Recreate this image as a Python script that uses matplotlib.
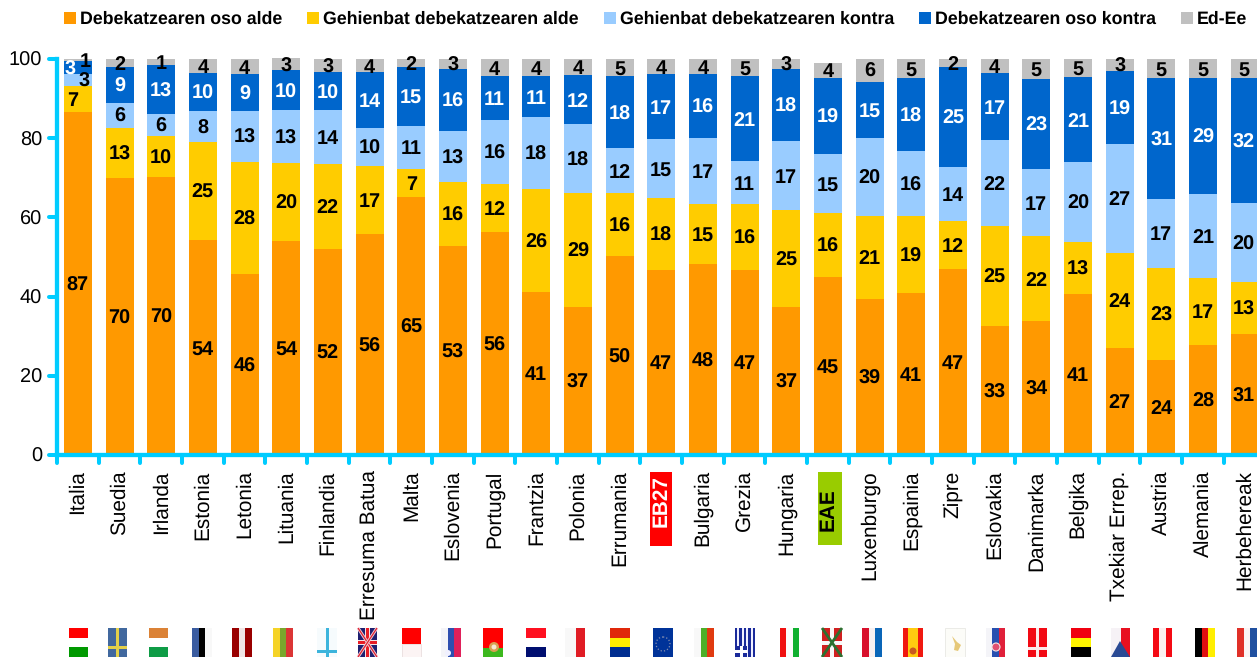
import matplotlib
matplotlib.use('Agg')
import matplotlib.pyplot as plt
from matplotlib.lines import TICKLEFT, TICKDOWN
from matplotlib.markers import MarkerStyle
from matplotlib.patches import Rectangle, Circle, Polygon
from matplotlib.transforms import Affine2D
import numpy as np

plt.rcParams['font.family'] = ['Liberation Sans', 'DejaVu Sans']
plt.rcParams['text.hinting'] = 'none'

countries = ['Italia', 'Suedia', 'Irlanda', 'Estonia', 'Letonia', 'Lituania', 'Finlandia',
             'Erresuma Batua', 'Malta', 'Eslovenia', 'Portugal', 'Frantzia', 'Polonia',
             'Errumania', 'EB27', 'Bulgaria', 'Grezia', 'Hungaria', 'EAE', 'Luxenburgo',
             'Espainia', 'Zipre', 'Eslovakia', 'Danimarka', 'Belgika', 'Txekiar Errep.',
             'Austria', 'Alemania', 'Herbehereak']

series_names = ['Debekatzearen oso alde', 'Gehienbat debekatzearen alde',
                'Gehienbat debekatzearen kontra', 'Debekatzearen oso kontra', 'Ed-Ee']

# segment heights
oso_alde = [86.5, 69.9, 70.1, 54.2, 45.7, 54.0, 52.0, 55.8, 65.1, 52.7, 56.3, 41.1, 37.3, 50.2, 46.7,
            48.2, 46.7, 37.3, 44.9, 39.4, 40.9, 46.9, 32.5, 33.8, 40.6, 27.0, 24.0, 27.7, 30.5]
alde = [6.6, 12.8, 10.4, 24.8, 28.4, 19.7, 21.5, 17.2, 7.0, 16.2, 12.1, 26.0, 28.8, 15.9, 18.1,
        15.1, 16.6, 24.5, 16.1, 20.9, 19.4, 12.1, 25.3, 21.4, 13.1, 24.0, 23.3, 17.0, 13.1]
kontra = [3.0, 6.1, 5.5, 7.8, 12.7, 13.3, 13.5, 9.7, 11.1, 12.8, 16.1, 18.2, 17.4, 11.3, 14.9,
          16.7, 10.9, 17.4, 14.9, 19.7, 16.4, 13.7, 21.7, 16.9, 20.2, 27.5, 17.3, 21.1, 20.0]
oso_kontra = [3.3, 9.3, 12.6, 9.6, 9.3, 10.1, 9.6, 13.9, 14.9, 15.7, 11.1, 10.3, 12.4, 18.2, 16.4,
              16.1, 21.4, 18.4, 19.2, 14.3, 18.4, 25.2, 16.9, 22.8, 21.5, 18.4, 30.5, 29.3, 31.5]
ed_ee = [0.6, 1.9, 1.3, 3.6, 3.9, 3.1, 3.3, 3.4, 1.9, 2.6, 4.3, 4.4, 4.1, 4.4, 3.9,
         3.9, 4.4, 2.4, 4.0, 5.7, 4.9, 2.1, 3.6, 5.1, 4.6, 3.1, 4.9, 4.9, 4.9]

# printed labels
lab_oso_alde = [87, 70, 70, 54, 46, 54, 52, 56, 65, 53, 56, 41, 37, 50, 47,
                48, 47, 37, 45, 39, 41, 47, 33, 34, 41, 27, 24, 28, 31]
lab_alde = [7, 13, 10, 25, 28, 20, 22, 17, 7, 16, 12, 26, 29, 16, 18,
            15, 16, 25, 16, 21, 19, 12, 25, 22, 13, 24, 23, 17, 13]
lab_kontra = [3, 6, 6, 8, 13, 13, 14, 10, 11, 13, 16, 18, 18, 12, 15,
              17, 11, 17, 15, 20, 16, 14, 22, 17, 20, 27, 17, 21, 20]
lab_oso_kontra = [3, 9, 13, 10, 9, 10, 10, 14, 15, 16, 11, 11, 12, 18, 17,
                  16, 21, 18, 19, 15, 18, 25, 17, 23, 21, 19, 31, 29, 32]
lab_ed_ee = [1, 2, 1, 4, 4, 3, 3, 4, 2, 3, 4, 4, 4, 5, 4,
             4, 5, 3, 4, 6, 5, 2, 4, 5, 5, 3, 5, 5, 5]

colors = ['#FF9900', '#FFCC00', '#99CCFF', '#0066CC', '#C0C0C0']
label_colors = ['black', 'black', 'black', 'white', 'black']
axis_color = '#00CCFF'

W, H = 1257, 657


def draw_stripes(bg, x0, x1, colors, horizontal):
    n = len(colors)
    for i, c in enumerate(colors):
        if horizontal:
            bg.add_patch(Rectangle((x0, 628 + i * 29 / n), x1 - x0, 29 / n, color=c, lw=0))
        else:
            bg.add_patch(Rectangle((x0 + i * (x1 - x0) / n, 628), (x1 - x0) / n, 29, color=c, lw=0))


def draw_cross(bg, x0, x1, bg_color, cross_color, cx, cy, t=3):
    bg.add_patch(Rectangle((x0, 628), x1 - x0, 29, color=bg_color, lw=0))
    bg.add_patch(Rectangle((cx - t / 2, 628), t, 29, color=cross_color, lw=0))
    bg.add_patch(Rectangle((x0, cy - t / 2), x1 - x0, t, color=cross_color, lw=0))


def draw_flags(bg):
    # the flags lie on their side, as in the picture, and are cut by the lower edge
    draw_stripes(bg, 69, 88, ['#FF0000', '#FFFFFF', '#009900'], True)
    draw_cross(bg, 108, 127, '#41689E', '#E3D04A', 117.5, 647)
    draw_stripes(bg, 149, 168, ['#DB8236', '#FFFFFF', '#0E9C46'], True)
    draw_stripes(bg, 192, 212, ['#3A5CA0', '#000000', '#F8F8F8'], False)
    draw_stripes(bg, 232, 252, ['#990000', '#F0E6E6', '#990000'], False)
    draw_stripes(bg, 273, 293, ['#F5D327', '#79A72C', '#DB3535'], False)
    draw_cross(bg, 317, 337, '#F6FBFD', '#3CB4DC', 327, 651)
    # union jack
    bg.add_patch(Rectangle((358, 628), 19, 29, color='#1F1F70', lw=0))
    for a, b in [((358, 628), (377, 657)), ((377, 628), (358, 657))]:
        bg.plot([a[0], b[0]], [a[1], b[1]], color='#F0D0D8', lw=2.2, solid_capstyle='butt')
        bg.plot([a[0], b[0]], [a[1], b[1]], color='#E02030', lw=0.9, solid_capstyle='butt')
    bg.add_patch(Rectangle((365, 628), 5, 29, color='#F5E5E5', lw=0))
    bg.add_patch(Rectangle((358, 640), 19, 5, color='#F5E5E5', lw=0))
    bg.add_patch(Rectangle((366, 628), 3, 29, color='#E81C25', lw=0))
    bg.add_patch(Rectangle((358, 641), 19, 3, color='#E81C25', lw=0))
    # malta
    bg.add_patch(Rectangle((402, 628), 19, 16, color='#FF0000', lw=0))
    bg.add_patch(Rectangle((402, 644), 19, 13, color='#FCF4F4', ec='#E0D0D0', lw=0.4))
    draw_stripes(bg, 441, 461, ['#F4F4F8', '#2F4FB0', '#E0205A'], False)
    bg.add_patch(Circle((448, 653), 3, color='#F0F0FF', lw=0))
    # portugal
    bg.add_patch(Rectangle((483, 628), 20, 20, color='#FF0000', lw=0))
    bg.add_patch(Rectangle((483, 648), 20, 9, color='#3CB81E', lw=0))
    bg.add_patch(Circle((494, 647), 5, color='#D8A050', lw=0))
    bg.add_patch(Circle((494, 647), 2.5, color='#F6E8D0', lw=0))
    draw_stripes(bg, 526, 546, ['#FF1020', '#FFFFFF', '#000E70'], True)
    # polonia
    bg.add_patch(Rectangle((565, 628), 11, 29, color='#F8F8F8', lw=0))
    bg.add_patch(Rectangle((576, 628), 9, 29, color='#E01C24', lw=0))
    draw_stripes(bg, 610, 630, ['#E0280A', '#FFEE00', '#002E90'], True)
    # eb
    bg.add_patch(Rectangle((653, 628), 20, 29, color='#003399', lw=0))
    bg.add_patch(Circle((663, 644), 7, fill=False, ec='#8890B0', lw=0.9, ls=':'))
    draw_stripes(bg, 694, 714, ['#F8F8F8', '#4CAF28', '#E03A10'], False)
    # grezia
    for i in range(9):
        bg.add_patch(Rectangle((735 + i * 20 / 9, 628), 20 / 9, 29,
                               color='#1A2A9A' if i % 2 == 0 else '#F0F0FF', lw=0))
    bg.add_patch(Rectangle((735, 646), 12, 11, color='#1A2A9A', lw=0))
    bg.add_patch(Rectangle((740, 646), 2.5, 11, color='#FFFFFF', lw=0))
    bg.add_patch(Rectangle((735, 650), 12, 2.5, color='#FFFFFF', lw=0))
    draw_stripes(bg, 780, 799, ['#F01010', '#FBFBFB', '#10B030'], False)
    # ikurrina
    bg.add_patch(Rectangle((822, 628), 20, 29, color='#D02020', lw=0))
    for a, b in [((822, 628), (842, 657)), ((842, 628), (822, 657))]:
        bg.plot([a[0], b[0]], [a[1], b[1]], color='#2C7030', lw=2, solid_capstyle='butt')
    bg.add_patch(Rectangle((830, 628), 4, 29, color='#F8F8F8', lw=0))
    bg.add_patch(Rectangle((822, 641), 20, 4, color='#F8F8F8', lw=0))
    draw_stripes(bg, 862, 882, ['#D8102C', '#F8F0F0', '#0A66B8'], False)
    # espainia
    bg.add_patch(Rectangle((903, 628), 20, 29, color='#F01810', lw=0))
    bg.add_patch(Rectangle((908, 628), 10, 29, color='#FFCC10', lw=0))
    bg.add_patch(Circle((913, 651), 3.5, color='#C85A20', lw=0))
    # zipre
    bg.add_patch(Rectangle((945, 628), 20, 29, color='#FCFCF8', ec='#E8E8E4', lw=0.6))
    bg.add_patch(Polygon([(952, 636), (957, 642), (961, 645), (958, 651), (954, 650), (955, 644)],
                         color='#E6C878', lw=0))
    draw_stripes(bg, 986, 1005, ['#F4F4F8', '#2850B0', '#E0203A'], False)
    bg.add_patch(Circle((996, 647), 4, color='#E05070', ec='#F4E4E4', lw=0.8))
    draw_cross(bg, 1028, 1047, '#F20A14', '#FBEAEA', 1037.5, 648)
    draw_stripes(bg, 1071, 1091, ['#F00010', '#FFF500', '#000000'], True)
    # txekia
    bg.add_patch(Rectangle((1111, 628), 10, 29, color='#F6F2F6', lw=0))
    bg.add_patch(Rectangle((1121, 628), 9, 29, color='#E81020', lw=0))
    bg.add_patch(Polygon([(1111, 657), (1130, 657), (1120, 641)], color='#2A4A94', lw=0))
    draw_stripes(bg, 1153, 1172, ['#F40A14', '#FBF0F0', '#F40A14'], False)
    draw_stripes(bg, 1195, 1215, ['#000000', '#E01010', '#FFEE00'], False)
    draw_stripes(bg, 1237, 1257, ['#E03028', '#FBF4F4', '#2050A0'], False)


def main():
    fig = plt.figure(figsize=(W / 100, H / 100), dpi=100)

    # pixel layer behind the chart for flags and the two label boxes
    bg = fig.add_axes([0, 0, 1, 1], zorder=0)
    bg.set_xlim(0, W)
    bg.set_ylim(H, 0)
    bg.axis('off')
    draw_flags(bg)
    bg.add_patch(Rectangle((650, 472), 22, 74, color='#FF0000', lw=0))
    bg.add_patch(Rectangle((818, 472), 24, 73, color='#99CC00', lw=0))

    ax = fig.add_axes([57 / W, (H - 455) / H, (W - 57) / W, 396 / H], zorder=1)
    ax.patch.set_alpha(0)

    x = np.arange(len(countries))
    series = [oso_alde, alde, kontra, oso_kontra, ed_ee]
    labels = [lab_oso_alde, lab_alde, lab_kontra, lab_oso_kontra, lab_ed_ee]
    bottom = np.zeros(len(countries))
    for i, vals in enumerate(series):
        bars = ax.bar(x, vals, width=0.672, bottom=bottom, color=colors[i],
                      label=series_names[i], clip_on=False, zorder=2)
        texts = ax.bar_label(bars, labels=[str(v) for v in labels[i]], label_type='center',
                             fontsize=14.3, fontweight='bold', color=label_colors[i], zorder=4)
        for t in texts:
            t.xyann = (t.xyann[0], -1.2)
        # Italia's thin segments have their numbers pushed sideways
        nudge = [0, -3.6, 4.3, -5.8, 5][i]
        texts[0].xyann = (nudge, -1.2)
        bottom += np.array(vals)

    ax.set_xlim(-0.5, (W - 57) / 41.67 - 0.5)
    ax.set_ylim(0, 100)
    ax.set_yticks([0, 20, 40, 60, 80, 100])
    ax.set_xticks(x)
    ax.set_xticks(x - 0.5, minor=True)
    ax.set_xticklabels(countries, rotation=90, fontsize=14.95)
    ax.tick_params(axis='y', labelsize=14.4, length=5.8, width=2.9, color=axis_color, pad=5)
    ax.tick_params(axis='x', which='major', length=0, pad=11)
    ax.tick_params(axis='x', which='minor', length=5.8, width=2.9, color=axis_color)
    ax.tick_params(which='both', zorder=5)

    for t in ax.yaxis.get_major_ticks():
        t.tick1line.set_marker(MarkerStyle(TICKLEFT, capstyle='round'))
    for t in ax.xaxis.get_minor_ticks():
        t.tick1line.set_marker(MarkerStyle(TICKDOWN, capstyle='round'))

    for side in ['top', 'right']:
        ax.spines[side].set_visible(False)
    for side in ['left', 'bottom']:
        ax.spines[side].set_color(axis_color)
        ax.spines[side].set_linewidth(3.1)
        ax.spines[side].set_zorder(5)

    # the two highlighted labels sit lower and in bold
    tick_labels = ax.get_xticklabels()
    eb = tick_labels[countries.index('EB27')]
    eb.set(color='white', fontweight='bold')
    eb.set_transform(eb.get_transform() + Affine2D().translate(0, -5))
    eae = tick_labels[countries.index('EAE')]
    eae.set(color='black', fontweight='bold')
    eae.set_transform(eae.get_transform() + Affine2D().translate(0, -18))

    ax.legend(loc='upper left', bbox_to_anchor=(64 / W, 1 - 11 / H), bbox_transform=fig.transFigure,
              ncol=5, frameon=False, borderpad=0, borderaxespad=0,
              handlelength=0.68, handleheight=0.68, handletextpad=0.22, columnspacing=1.4,
              prop={'size': 12.8, 'weight': 'bold'})

    fig.savefig('out.png', dpi=100)


if __name__ == '__main__':
    main()
